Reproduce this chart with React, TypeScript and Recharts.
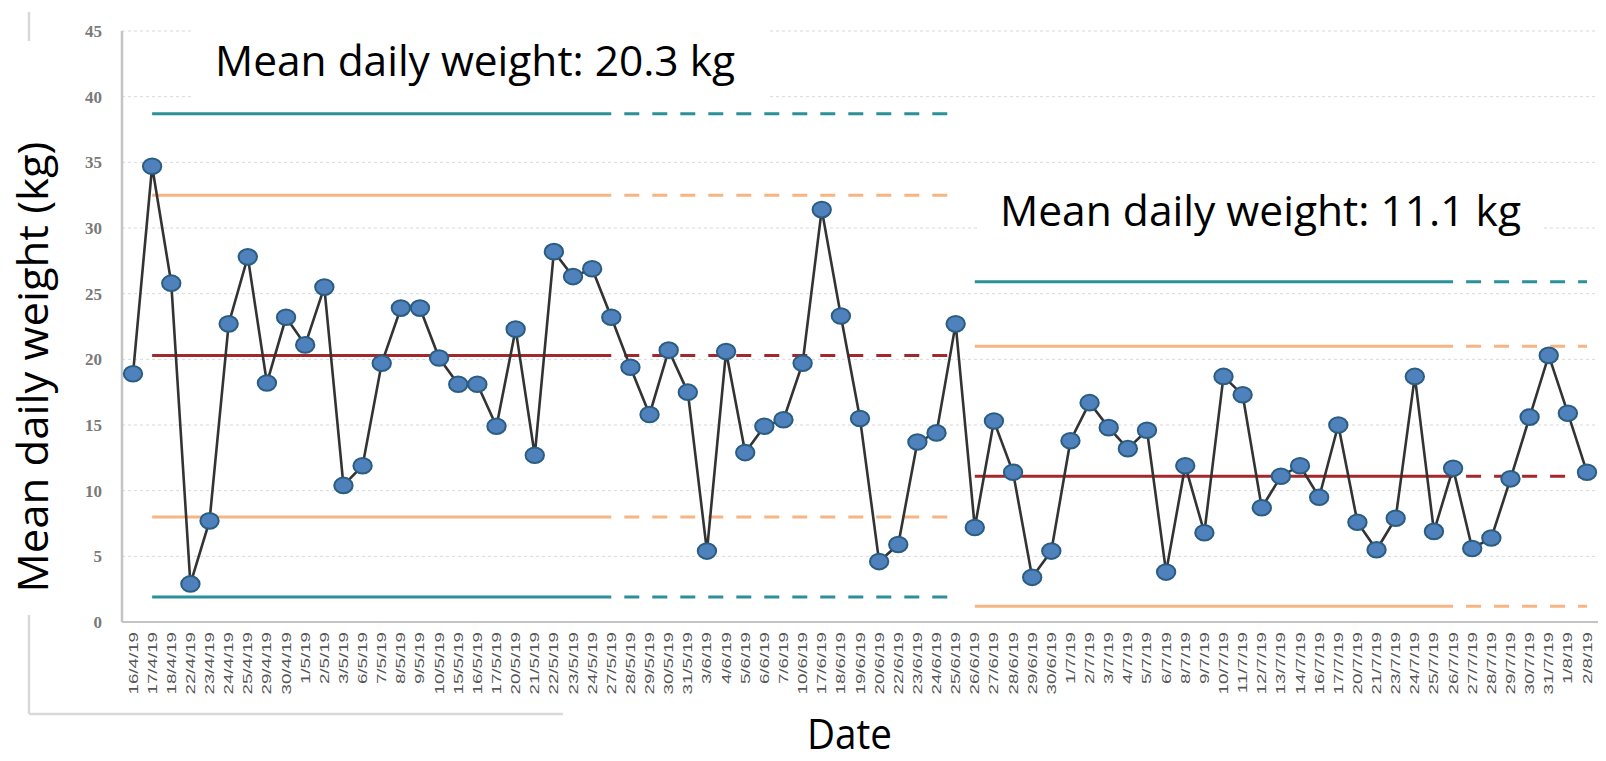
import React from 'react';
import { LineChart, Line, XAxis, YAxis, CartesianGrid } from 'recharts';

// sample dates (x categories)
const dates = [
  '16/4/19', '17/4/19', '18/4/19', '22/4/19', '23/4/19', '24/4/19', '25/4/19', '29/4/19', '30/4/19', '1/5/19',
  '2/5/19', '3/5/19', '6/5/19', '7/5/19', '8/5/19', '9/5/19', '10/5/19', '15/5/19', '16/5/19', '17/5/19',
  '20/5/19', '21/5/19', '22/5/19', '23/5/19', '24/5/19', '27/5/19', '28/5/19', '29/5/19', '30/5/19', '31/5/19',
  '3/6/19', '4/6/19', '5/6/19', '6/6/19', '7/6/19', '10/6/19', '17/6/19', '18/6/19', '19/6/19', '20/6/19',
  '22/6/19', '23/6/19', '24/6/19', '25/6/19', '26/6/19', '27/6/19', '28/6/19', '29/6/19', '30/6/19', '1/7/19',
  '2/7/19', '3/7/19', '4/7/19', '5/7/19', '6/7/19', '8/7/19', '9/7/19', '10/7/19', '11/7/19', '12/7/19',
  '13/7/19', '14/7/19', '16/7/19', '17/7/19', '20/7/19', '21/7/19', '23/7/19', '24/7/19', '25/7/19', '26/7/19',
  '27/7/19', '28/7/19', '29/7/19', '30/7/19', '31/7/19', '1/8/19', '2/8/19',
];

// mean daily weight (kg)
const weights = [
  18.9, 34.7, 25.8, 2.9, 7.7, 22.7, 27.8, 18.2, 23.2, 21.1,
  25.5, 10.4, 11.9, 19.7, 23.9, 23.9, 20.1, 18.1, 18.1, 14.9,
  22.3, 12.7, 28.2, 26.3, 26.9, 23.2, 19.4, 15.8, 20.7, 17.5,
  5.4, 20.6, 12.9, 14.9, 15.4, 19.7, 31.4, 23.3, 15.5, 4.6,
  5.9, 13.7, 14.4, 22.7, 7.2, 15.3, 11.4, 3.4, 5.4, 13.8,
  16.7, 14.8, 13.2, 14.6, 3.8, 11.9, 6.8, 18.7, 17.3, 8.7,
  11.1, 11.9, 9.5, 15.0, 7.6, 5.5, 7.9, 18.7, 6.9, 11.7,
  5.6, 6.4, 10.9, 15.6, 20.3, 15.9, 11.4,
];

const yTicks = [0, 5, 10, 15, 20, 25, 30, 35, 40, 45];

// control limits per phase: [first date, last solid date, last projected date]
const phase1Range = ['17/4/19', '27/5/19', '25/6/19'];
const phase1Limits = { mean: 20.3, ucl: 38.7, uwl: 32.5, lwl: 8.0, lcl: 1.9 };
const phase2Range = ['26/6/19', '26/7/19', '2/8/19'];
const phase2Limits = { mean: 11.1, ucl: 25.9, uwl: 21.0, lwl: 1.2 };

const TEAL = '#2b9098';
const PEACH = '#f8b584';
const MEAN_RED = '#a3282c';
const limitColor: Record<string, string> = { mean: MEAN_RED, ucl: TEAL, uwl: PEACH, lwl: PEACH, lcl: TEAL };

const phases = [
  { id: 'p1', range: phase1Range, limits: phase1Limits as Record<string, number> },
  { id: 'p2', range: phase2Range, limits: phase2Limits as Record<string, number> },
];

const rows = dates.map((date, i) => {
  const row: Record<string, any> = { date, weight: weights[i] };
  phases.forEach(ph => {
    const a = dates.indexOf(ph.range[0]);
    const b = dates.indexOf(ph.range[1]);
    const c = dates.indexOf(ph.range[2]);
    Object.entries(ph.limits).forEach(([k, v]) => {
      row[`${ph.id}_${k}_solid`] = i >= a && i <= b ? v : null;
      row[`${ph.id}_${k}_dash`] = i >= b && i <= c ? v : null;
    });
  });
  return row;
});

const DateTick = (props: any) => {
  const { x, y, payload } = props;
  return (
    <g transform={`translate(${x},${y})`}>
      <text
        transform="rotate(-90) scale(1.5,1)"
        textAnchor="end"
        dy="0.36em"
        fill="#555"
        fontSize={12.5}
        fontFamily="'Liberation Sans', Arial, sans-serif"
      >
        {payload.value}
      </text>
    </g>
  );
};

const renderDot = (p: any) => (
  <ellipse
    key={`dot-${p.index}`}
    cx={p.cx}
    cy={p.cy}
    rx={9.2}
    ry={7.8}
    fill="#4f81bd"
    stroke="#2a5d80"
    strokeWidth={2}
  />
);

const bigFont = "'Open Sans', 'Noto Sans', sans-serif";

export default function App() {
  const limitLines: React.ReactNode[] = [];
  phases.forEach(ph => {
    Object.keys(ph.limits).forEach(k => {
      limitLines.push(
        <Line
          key={`${ph.id}_${k}_solid`}
          dataKey={`${ph.id}_${k}_solid`}
          stroke={limitColor[k]}
          strokeWidth={3}
          dot={false}
          activeDot={false}
          isAnimationActive={false}
        />,
        <Line
          key={`${ph.id}_${k}_dash`}
          dataKey={`${ph.id}_${k}_dash`}
          stroke={limitColor[k]}
          strokeWidth={3}
          strokeDasharray="0 13 15 0"
          dot={false}
          activeDot={false}
          isAnimationActive={false}
        />
      );
    });
  });

  return (
    <div style={{ position: 'relative', width: 1606, height: 761, margin: -8, overflow: 'hidden', background: '#fff' }}>
      <LineChart width={1606} height={702} data={rows} margin={{ top: 31, right: 6, bottom: 0, left: 0 }}>
        <CartesianGrid vertical={false} stroke="#d9d9d9" strokeDasharray="3 3" />
        <XAxis
          dataKey="date"
          interval={0}
          height={80}
          padding={{ left: 11, right: 13 }}
          tickLine={false}
          tickSize={0}
          tickMargin={10}
          axisLine={{ stroke: '#c4c4c4', strokeWidth: 2 }}
          tick={<DateTick />}
        />
        <YAxis
          width={122}
          domain={[0, 45]}
          ticks={yTicks}
          interval={0}
          tickLine={false}
          tickSize={0}
          tickMargin={20}
          axisLine={{ stroke: '#c4c4c4', strokeWidth: 2.5 }}
          tick={{ fill: '#7a7a7a', fontSize: 17, fontWeight: 'bold', fontFamily: "'Liberation Serif', serif" }}
        />
        {limitLines}
        <Line
          dataKey="weight"
          stroke="#333"
          strokeWidth={2.6}
          dot={renderDot}
          activeDot={false}
          isAnimationActive={false}
        />
      </LineChart>
      <svg width={1606} height={761} style={{ position: 'absolute', left: 0, top: 0, pointerEvents: 'none' }}>
        {/* chart frame, partly hidden behind the text boxes */}
        <line x1={29} y1={12} x2={29} y2={41} stroke="#d9d9d9" strokeWidth={2.5} />
        <line x1={29} y1={615} x2={29} y2={714} stroke="#d9d9d9" strokeWidth={2.5} />
        <line x1={29} y1={714} x2={563} y2={714} stroke="#d9d9d9" strokeWidth={2.5} />
        <rect x={192} y={15} width={578} height={88} fill="#fff" />
        <rect x={978} y={180} width={565} height={72} fill="#fff" />
        <text x={215} y={76} fontSize={42} fontFamily={bigFont} fill="#000" textLength={520} lengthAdjust="spacingAndGlyphs">
          Mean daily weight: 20.3 kg
        </text>
        <text x={1000} y={226} fontSize={42} fontFamily={bigFont} fill="#000" textLength={521} lengthAdjust="spacingAndGlyphs">
          Mean daily weight: 11.1 kg
        </text>
        <text
          transform="translate(48,367) rotate(-90)"
          textAnchor="middle"
          fontSize={42}
          fontFamily={bigFont}
          fill="#000"
          textLength={451}
          lengthAdjust="spacingAndGlyphs"
        >
          Mean daily weight (kg)
        </text>
        <text x={807} y={749} fontSize={42} fontFamily={bigFont} fill="#000" textLength={85} lengthAdjust="spacingAndGlyphs">
          Date
        </text>
      </svg>
    </div>
  );
}
